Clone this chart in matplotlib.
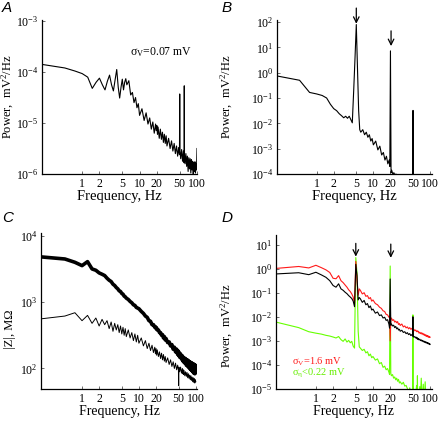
import numpy as np
import matplotlib
matplotlib.use("Agg")
import matplotlib.pyplot as plt
from matplotlib.ticker import FixedLocator, FixedFormatter, NullLocator, LogLocator

plt.rcParams["font.family"] = ["Liberation Serif", "DejaVu Serif"]
plt.rcParams["mathtext.fontset"] = "custom"
plt.rcParams["mathtext.rm"] = "Liberation Serif"
plt.rcParams["mathtext.it"] = "Liberation Serif:italic"

# frequency grid shared by all traces (Hz)
freq = [0.2, 0.5, 0.75,
        1.0, 1.25, 1.5, 1.75, 2.0,
        2.25, 2.5, 2.75, 3.0, 3.25,
        3.5, 3.75, 4.0, 4.25, 4.5,
        4.75, 5.0, 5.25, 5.5, 5.75,
        6.0, 6.5, 7.0, 7.5, 8.0,
        8.5, 9.0, 9.5, 10, 11,
        12, 13, 14, 15, 16,
        17, 18, 19, 19.5, 20,
        20.5, 21, 22, 23, 24,
        25, 26, 27, 28, 29,
        30, 32, 34, 36, 38,
        40, 42, 44, 46, 48,
        49.5, 50, 50.5, 52, 54,
        56, 58, 59.5, 60, 60.5,
        62, 64, 66, 68, 70,
        72, 74, 76, 78, 80,
        82, 84, 86, 88, 90,
        92, 94, 96, 98, 100]

# panel A, log10 power (mV^2/Hz)
a_log = [-3.85, -3.92, -3.98,
         -4.03, -4.10, -4.32, -4.20, -4.12,
         -4.25, -4.35, -4.18, -4.06, -4.25,
         -4.37, -4.15, -3.95, -4.30, -4.51,
         -4.30, -4.14, -4.35, -4.20, -4.13,
         -4.25, -4.17, -4.45, -4.40, -4.60,
         -4.50, -4.70, -4.62, -4.85, -4.72,
         -4.95, -4.80, -5.02, -4.90, -5.12,
         -4.98, -5.20, -5.02, -5.15, -5.05,
         -5.22, -5.08, -5.30, -5.12, -5.32,
         -5.18, -5.38, -5.22, -5.40, -5.25,
         -5.45, -5.30, -5.50, -5.35, -5.55,
         -5.40, -5.60, -5.45, -5.65, -5.48,
         -5.62, -4.43, -5.55, -5.70, -5.52,
         -5.75, -5.55, -5.78, -4.27, -5.62,
         -5.80, -5.60, -5.85, -5.65, -5.95,
         -5.68, -5.90, -5.70, -5.98, -5.72,
         -5.92, -5.75, -6.00, -5.78, -5.95,
         -5.76, -5.98, -5.80, -5.92, -5.50]

# panel B, log10 power (mV^2/Hz)
b_log = [-0.13, -0.30, -0.78,
         -0.84, -0.90, -1.00, -1.25, -1.42,
         -1.50, -1.62, -1.70, -1.78, -1.72,
         -1.80, -1.72, -1.85, -1.98, -0.70,
         0.60, 1.90, 0.15, -1.50, -2.25,
         -2.35, -2.25, -2.45, -2.35, -2.55,
         -2.45, -2.70, -2.60, -2.85, -2.70,
         -3.05, -2.90, -3.25, -3.15, -3.45,
         -3.30, -3.60, -3.45, -3.70, 0.86,
         -3.95, -3.85, -4.00, -3.95, -4.05,
         -4.00, -4.10, -4.60, -4.60, -4.60,
         -4.60, -4.60, -4.60, -4.60, -4.60,
         -4.60, -4.60, -4.60, -4.60, -4.60,
         -4.60, -1.49, -4.60, -4.60, -4.60,
         -4.60, -4.60, -4.60, -4.60, -4.60,
         -4.60, -4.60, -4.60, -4.60, -4.60,
         -4.60, -4.60, -4.60, -4.60, -4.60,
         -4.60, -4.60, -4.60, -4.60, -4.60,
         -4.60, -4.60, -4.60, -4.60, -4.60]

# panel C, log10 |Z| (MOhm): thick and thin traces
c_thick_log = [3.68, 3.65, 3.60,
               3.55, 3.61, 3.50, 3.48, 3.44,
               3.42, 3.40, 3.36, 3.33, 3.31,
               3.27, 3.25, 3.22, 3.20, 3.17,
               3.16, 3.13, 3.12, 3.09, 3.08,
               3.06, 3.04, 3.01, 2.99, 2.96,
               2.95, 2.92, 2.91, 2.90, 2.86,
               2.83, 2.79, 2.77, 2.72, 2.71,
               2.66, 2.66, 2.62, 2.63, 2.60,
               2.61, 2.58, 2.58, 2.54, 2.54,
               2.50, 2.51, 2.46, 2.48, 2.43,
               2.45, 2.39, 2.40, 2.34, 2.36,
               2.29, 2.32, 2.25, 2.29, 2.21,
               2.26, 2.20, 2.24, 2.17, 2.22,
               2.14, 2.19, 2.12, 2.17, 2.10,
               2.16, 2.08, 2.15, 2.05, 2.13,
               2.03, 2.12, 2.01, 2.10, 1.99,
               2.09, 1.97, 2.08, 1.95, 2.07,
               1.93, 2.06, 1.92, 2.05, 1.94]

c_thin_log = [2.75, 2.79, 2.84,
              2.72, 2.80, 2.68, 2.76, 2.64,
              2.74, 2.66, 2.72, 2.60, 2.70,
              2.56, 2.68, 2.58, 2.66, 2.54,
              2.64, 2.52, 2.62, 2.50, 2.60,
              2.48, 2.58, 2.46, 2.54, 2.42,
              2.52, 2.40, 2.50, 2.38, 2.46,
              2.34, 2.42, 2.30, 2.38, 2.27,
              2.35, 2.24, 2.32, 2.22, 2.30,
              2.20, 2.28, 2.18, 2.25, 2.15,
              2.23, 2.13, 2.21, 2.11, 2.18,
              2.09, 2.16, 2.06, 2.13, 2.03,
              2.10, 2.00, 2.08, 1.98, 2.05,
              1.97, 1.74, 2.02, 1.95, 2.02,
              1.93, 2.00, 1.92, 1.98, 1.91,
              1.97, 1.89, 1.95, 1.88, 1.94,
              1.86, 1.92, 1.85, 1.90, 1.83,
              1.89, 1.82, 1.87, 1.80, 1.86,
              1.79, 1.85, 1.78, 1.83, 1.80]

# panel D, log10 power (mV^2/Hz): red, black and green traces
d_red_log = [0.01, 0.09, 0.03,
             0.14, 0.04, -0.05, -0.16, -0.40,
             -0.42, -0.29, -0.50, -0.58, -0.68,
             -0.77, -0.88, -0.95, -1.05, -1.18,
             -1.45, 0.30, -0.50, -1.10, -0.84,
             -0.90, -1.05, -1.00, -1.15, -1.12,
             -1.25, -1.20, -1.35, -1.30, -1.45,
             -1.50, -1.60, -1.65, -1.75, -1.78,
             -1.90, -1.92, -2.02, -1.98, -3.00,
             -2.10, -2.05, -2.15, -2.12, -2.22,
             -2.18, -2.25, -2.20, -2.32, -2.28,
             -2.36, -2.30, -2.42, -2.38, -2.46,
             -2.42, -2.50, -2.45, -2.52, -2.48,
             -2.55, -2.50, -2.56, -2.52, -2.58,
             -2.55, -2.62, -2.58, -2.60, -2.62,
             -2.60, -2.68, -2.64, -2.70, -2.66,
             -2.72, -2.68, -2.75, -2.71, -2.77,
             -2.74, -2.80, -2.76, -2.82, -2.78,
             -2.84, -2.80, -2.86, -2.82, -2.85]

d_black_log = [-0.22, -0.17, -0.25,
               -0.15, -0.26, -0.36, -0.50, -0.70,
               -0.77, -0.63, -0.84, -0.90, -0.98,
               -1.04, -1.12, -1.18, -1.24, -1.35,
               -1.58, 0.18, -0.30, -1.30, -1.20,
               -1.25, -1.40, -1.32, -1.50, -1.45,
               -1.62, -1.55, -1.72, -1.68, -1.85,
               -1.80, -1.95, -1.92, -2.05, -2.02,
               -2.15, -2.12, -2.30, -2.47, -0.43,
               -2.35, -2.30, -2.38, -2.35, -2.45,
               -2.40, -2.50, -2.46, -2.55, -2.52,
               -2.60, -2.56, -2.65, -2.62, -2.70,
               -2.66, -2.74, -2.70, -2.78, -2.74,
               -2.80, -2.00, -2.80, -2.85, -2.82,
               -2.88, -2.85, -2.92, -2.88, -2.93,
               -2.90, -2.96, -2.93, -2.99, -2.96,
               -3.01, -2.98, -3.04, -3.01, -3.06,
               -3.03, -3.08, -3.05, -3.10, -3.07,
               -3.12, -3.09, -3.14, -3.11, -3.15]

d_green_log = [-2.22, -2.45, -2.62,
               -2.68, -2.72, -2.77, -2.80, -2.84,
               -2.88, -2.82, -2.95, -3.02, -2.92,
               -3.05, -2.98, -3.08, -3.02, -3.22,
               -3.30, 0.46, -0.20, -2.60, -3.25,
               -3.30, -3.40, -3.35, -3.50, -3.45,
               -3.62, -3.55, -3.70, -3.65, -3.80,
               -3.75, -3.95, -3.90, -4.10, -4.05,
               -4.20, -4.15, -4.30, -4.40, 0.11,
               -4.35, -4.45, -4.40, -4.55, -4.50,
               -4.62, -4.55, -4.68, -4.60, -4.75,
               -4.70, -4.80, -4.72, -4.88, -4.85,
               -4.98, -5.20, -4.95, -5.20, -5.30,
               -5.30, -1.92, -5.30, -5.30, -5.30,
               -5.30, -4.85, -5.30, -4.45, -5.30,
               -5.30, -5.30, -4.90, -5.30, -4.55,
               -5.30, -5.30, -4.80, -5.30, -5.30,
               -4.70, -5.30, -5.30, -5.30, -5.30,
               -5.30, -5.30, -5.30, -5.30, -5.30]

xticks = [1, 2, 5, 10, 20, 50, 100]

f = np.array(freq)
fig = plt.figure(figsize=(4.38, 4.21), dpi=100)
axA = fig.add_axes([0.0959, 0.5867, 0.3539, 0.3658])
axB = fig.add_axes([0.6324, 0.5867, 0.3539, 0.3658])
axC = fig.add_axes([0.0936, 0.0760, 0.3562, 0.3705])
axD = fig.add_axes([0.6301, 0.0760, 0.3562, 0.3658])


def style(ax, xlim, ylim, xlsize=10.5):
    ax.set_xscale("log")
    ax.set_yscale("log")
    ax.set_xlim(*xlim)
    ax.set_ylim(*ylim)
    ax.xaxis.set_major_locator(FixedLocator(xticks))
    ax.xaxis.set_major_formatter(FixedFormatter([str(t) for t in xticks]))
    ax.xaxis.set_minor_locator(NullLocator())
    ax.yaxis.set_major_locator(LogLocator(base=10, numticks=12))
    ax.yaxis.set_minor_locator(NullLocator())
    for s in ["top", "right"]:
        ax.spines[s].set_visible(False)
    for s in ["left", "bottom"]:
        ax.spines[s].set_linewidth(0.9)
    ax.tick_params(axis="both", direction="in", length=2.5, width=0.6, color="#555555")
    ax.tick_params(axis="x", labelsize=8.5, pad=3)
    ax.tick_params(axis="y", labelsize=8.5, pad=2.5)
    ax.set_xlabel("Frequency, Hz", fontsize=xlsize, labelpad=0)


style(axA, (0.2, 100), (1e-6, 1.05e-3))
axA.plot(f, 10.0 ** np.array(a_log), color="black", lw=0.8)
axA.set_ylabel("Power,  mV$^{2}$/Hz", fontsize=9)
axA.yaxis.set_label_coords(-0.165, 0.5)
axA.text(0.57, 0.77, "σ$_\\mathrm{V}$=0.07 mV", transform=axA.transAxes, fontsize=8.5)

style(axB, (0.2, 108), (1e-4, 1.2e2))
axB.plot(f, 10.0 ** np.array(b_log), color="black", lw=0.8)
axB.set_ylabel("Power,  mV$^{2}$/Hz", fontsize=9)
axB.yaxis.set_label_coords(-0.27, 0.5)
axB.annotate("", xy=(5, 10 ** 1.93), xytext=(5, 10 ** 2.55), annotation_clip=False,
             arrowprops=dict(arrowstyle="->", lw=0.9, color="black", shrinkA=0, shrinkB=0))
axB.annotate("", xy=(20.5, 10 ** 1.05), xytext=(20.5, 10 ** 1.65), annotation_clip=False,
             arrowprops=dict(arrowstyle="->", lw=0.9, color="black", shrinkA=0, shrinkB=0))

style(axC, (0.19, 105), (49, 1.1e4), xlsize=10)
axC.plot(f, 10.0 ** np.array(c_thick_log), color="black", lw=2.6)
axC.plot(f, 10.0 ** np.array(c_thin_log), color="black", lw=0.7)
axC.set_ylabel("|Z|, MΩ", fontsize=9)
axC.yaxis.set_label_coords(-0.16, 0.38)

style(axD, (0.2, 108), (1e-5, 25), xlsize=10)
axD.plot(f, 10.0 ** np.array(d_green_log), color="#66ff00", lw=0.8)
axD.plot(f, 10.0 ** np.array(d_red_log), color="#ff1a1a", lw=0.8)
axD.plot(f, 10.0 ** np.array(d_black_log), color="black", lw=0.8)
axD.set_ylabel("Power,  mV$^{2}$/Hz", fontsize=9)
axD.yaxis.set_label_coords(-0.26, 0.41)
axD.annotate("", xy=(5, 10 ** 0.5), xytext=(5, 10 ** 1.05),
             arrowprops=dict(arrowstyle="->", lw=0.9, color="black", shrinkA=0, shrinkB=0))
axD.annotate("", xy=(20.5, 10 ** 0.45), xytext=(20.5, 10 ** 1.02),
             arrowprops=dict(arrowstyle="->", lw=0.9, color="black", shrinkA=0, shrinkB=0))
axD.text(0.10, 0.16, "σ$_\\mathrm{V}$=1.6 mV", transform=axD.transAxes,
         fontsize=7.5, color="#ff1a1a")
axD.text(0.10, 0.085, "σ$_\\mathrm{η}$<0.22 mV", transform=axD.transAxes,
         fontsize=7.5, color="#66ee00")

for lab, x, y in [("A", 0.004, 0.998), ("B", 0.505, 0.998), ("C", 0.004, 0.50), ("D", 0.505, 0.50)]:
    fig.text(x, y, lab, ha="left", va="top", fontsize=11, style="italic",
             family="Liberation Sans")

fig.savefig("out.png", dpi=100)
